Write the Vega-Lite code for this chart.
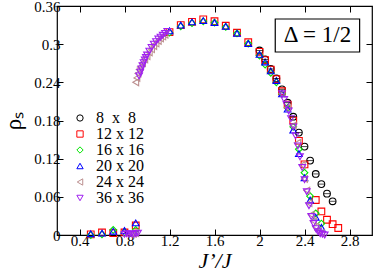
{
"$schema":"https://vega.github.io/schema/vega-lite/v6.json",
"width":315,"height":229,
"autosize":"none",
"padding":{"left":57,"top":6,"right":2,"bottom":36},
"config":{"view":{"stroke":"black","strokeWidth":1.2},"font":"Times New Roman, Liberation Serif, serif",
 "axis":{"labelFont":"Times New Roman, Liberation Serif, serif","labelFontSize":15,"labelColor":"black","tickColor":"black","tickSize":-6,"tickWidth":1,"domain":false,"grid":false,"titleFont":"Times New Roman, Liberation Serif, serif","titleColor":"black","titleFontWeight":"normal"}},
"data":{"values":[
{"L":"8  x  8","x":2.0,"y":0.290},{"L":"8  x  8","x":2.05,"y":0.276},{"L":"8  x  8","x":2.1,"y":0.261},{"L":"8  x  8","x":2.15,"y":0.246},{"L":"8  x  8","x":2.2,"y":0.229},{"L":"8  x  8","x":2.25,"y":0.208},{"L":"8  x  8","x":2.3,"y":0.186},{"L":"8  x  8","x":2.35,"y":0.161},{"L":"8  x  8","x":2.4,"y":0.139},{"L":"8  x  8","x":2.45,"y":0.117},{"L":"8  x  8","x":2.5,"y":0.096},{"L":"8  x  8","x":2.55,"y":0.080},{"L":"8  x  8","x":2.6,"y":0.065},{"L":"8  x  8","x":2.65,"y":0.053},
{"L":"12 x 12","x":0.5,"y":0.001},{"L":"12 x 12","x":0.6,"y":0.004},{"L":"12 x 12","x":0.7,"y":0.003},{"L":"12 x 12","x":0.8,"y":0.004},{"L":"12 x 12","x":0.9,"y":0.015},{"L":"12 x 12","x":1.2,"y":0.319},{"L":"12 x 12","x":1.3,"y":0.330},{"L":"12 x 12","x":1.4,"y":0.335},{"L":"12 x 12","x":1.5,"y":0.339},{"L":"12 x 12","x":1.6,"y":0.336},{"L":"12 x 12","x":1.7,"y":0.329},{"L":"12 x 12","x":1.8,"y":0.318},{"L":"12 x 12","x":1.9,"y":0.303},{"L":"12 x 12","x":2.0,"y":0.288},{"L":"12 x 12","x":2.05,"y":0.275},{"L":"12 x 12","x":2.1,"y":0.260},{"L":"12 x 12","x":2.15,"y":0.245},{"L":"12 x 12","x":2.2,"y":0.226},{"L":"12 x 12","x":2.25,"y":0.205},{"L":"12 x 12","x":2.3,"y":0.180},{"L":"12 x 12","x":2.35,"y":0.148},{"L":"12 x 12","x":2.4,"y":0.111},{"L":"12 x 12","x":2.5,"y":0.055},{"L":"12 x 12","x":2.55,"y":0.037},{"L":"12 x 12","x":2.6,"y":0.024},{"L":"12 x 12","x":2.65,"y":0.017},{"L":"12 x 12","x":2.7,"y":0.011},
{"L":"16 x 16","x":0.5,"y":0.0},{"L":"16 x 16","x":0.6,"y":0.001},{"L":"16 x 16","x":0.7,"y":0.008},{"L":"16 x 16","x":0.8,"y":0.004},{"L":"16 x 16","x":0.9,"y":0.008},{"L":"16 x 16","x":1.2,"y":0.318},{"L":"16 x 16","x":1.3,"y":0.328},{"L":"16 x 16","x":1.4,"y":0.333},{"L":"16 x 16","x":1.5,"y":0.336},{"L":"16 x 16","x":1.6,"y":0.334},{"L":"16 x 16","x":1.7,"y":0.327},{"L":"16 x 16","x":1.8,"y":0.317},{"L":"16 x 16","x":1.9,"y":0.301},{"L":"16 x 16","x":2.0,"y":0.282},{"L":"16 x 16","x":2.05,"y":0.268},{"L":"16 x 16","x":2.1,"y":0.255},{"L":"16 x 16","x":2.15,"y":0.240},{"L":"16 x 16","x":2.2,"y":0.222},{"L":"16 x 16","x":2.25,"y":0.200},{"L":"16 x 16","x":2.3,"y":0.170},{"L":"16 x 16","x":2.35,"y":0.135},{"L":"16 x 16","x":2.4,"y":0.098},{"L":"16 x 16","x":2.45,"y":0.061},{"L":"16 x 16","x":2.5,"y":0.034},{"L":"16 x 16","x":2.55,"y":0.018},
{"L":"20 x 20","x":0.5,"y":0.002},{"L":"20 x 20","x":0.6,"y":0.003},{"L":"20 x 20","x":0.7,"y":0.006},{"L":"20 x 20","x":0.8,"y":0.007},{"L":"20 x 20","x":0.9,"y":0.019},{"L":"20 x 20","x":1.2,"y":0.321},{"L":"20 x 20","x":1.3,"y":0.330},{"L":"20 x 20","x":1.4,"y":0.335},{"L":"20 x 20","x":1.5,"y":0.337},{"L":"20 x 20","x":1.6,"y":0.334},{"L":"20 x 20","x":1.7,"y":0.328},{"L":"20 x 20","x":1.8,"y":0.317},{"L":"20 x 20","x":1.9,"y":0.301},{"L":"20 x 20","x":2.0,"y":0.284},{"L":"20 x 20","x":2.05,"y":0.272},{"L":"20 x 20","x":2.1,"y":0.258},{"L":"20 x 20","x":2.15,"y":0.243},{"L":"20 x 20","x":2.2,"y":0.222},{"L":"20 x 20","x":2.25,"y":0.198},{"L":"20 x 20","x":2.3,"y":0.165},{"L":"20 x 20","x":2.35,"y":0.128},{"L":"20 x 20","x":2.4,"y":0.090},{"L":"20 x 20","x":2.45,"y":0.055},{"L":"20 x 20","x":2.5,"y":0.028},{"L":"20 x 20","x":2.55,"y":0.012},
{"L":"24 x 24","x":0.86,"y":0.001},{"L":"24 x 24","x":0.88,"y":0.002},{"L":"24 x 24","x":0.9,"y":0.003},{"L":"24 x 24","x":0.9,"y":0.240},{"L":"24 x 24","x":0.91,"y":0.247},{"L":"24 x 24","x":0.92,"y":0.254},{"L":"24 x 24","x":0.93,"y":0.260},{"L":"24 x 24","x":0.94,"y":0.264},{"L":"24 x 24","x":0.96,"y":0.270},{"L":"24 x 24","x":0.98,"y":0.276},{"L":"24 x 24","x":1.0,"y":0.281},{"L":"24 x 24","x":1.02,"y":0.287},{"L":"24 x 24","x":1.04,"y":0.292},{"L":"24 x 24","x":1.06,"y":0.297},{"L":"24 x 24","x":1.08,"y":0.301},{"L":"24 x 24","x":1.1,"y":0.305},{"L":"24 x 24","x":1.12,"y":0.309},{"L":"24 x 24","x":1.14,"y":0.312},{"L":"24 x 24","x":1.16,"y":0.315},{"L":"24 x 24","x":2.2,"y":0.222},{"L":"24 x 24","x":2.25,"y":0.200},{"L":"24 x 24","x":2.3,"y":0.172},{"L":"24 x 24","x":2.34,"y":0.145},{"L":"24 x 24","x":2.38,"y":0.110},{"L":"24 x 24","x":2.4,"y":0.088},{"L":"24 x 24","x":2.42,"y":0.070},{"L":"24 x 24","x":2.44,"y":0.050},{"L":"24 x 24","x":2.46,"y":0.032},{"L":"24 x 24","x":2.48,"y":0.022},{"L":"24 x 24","x":2.5,"y":0.013},{"L":"24 x 24","x":2.52,"y":0.007},{"L":"24 x 24","x":2.55,"y":0.003},
{"L":"36 x 36","x":0.8,"y":0.001},{"L":"36 x 36","x":0.82,"y":0.002},{"L":"36 x 36","x":0.84,"y":0.001},{"L":"36 x 36","x":0.86,"y":0.002},{"L":"36 x 36","x":0.88,"y":0.001},{"L":"36 x 36","x":0.9,"y":0.002},{"L":"36 x 36","x":0.92,"y":0.003},
{"L":"36 x 36","x":0.93,"y":0.250},{"L":"36 x 36","x":0.94,"y":0.256},{"L":"36 x 36","x":0.95,"y":0.261},{"L":"36 x 36","x":0.96,"y":0.266},{"L":"36 x 36","x":0.97,"y":0.271},{"L":"36 x 36","x":0.98,"y":0.275},{"L":"36 x 36","x":0.99,"y":0.279},{"L":"36 x 36","x":1.0,"y":0.283},{"L":"36 x 36","x":1.02,"y":0.289},{"L":"36 x 36","x":1.04,"y":0.295},{"L":"36 x 36","x":1.06,"y":0.300},{"L":"36 x 36","x":1.08,"y":0.304},{"L":"36 x 36","x":1.1,"y":0.308},{"L":"36 x 36","x":1.12,"y":0.311},{"L":"36 x 36","x":1.14,"y":0.314},{"L":"36 x 36","x":1.16,"y":0.317},{"L":"36 x 36","x":1.18,"y":0.320},
{"L":"36 x 36","x":2.2,"y":0.222},{"L":"36 x 36","x":2.22,"y":0.213},{"L":"36 x 36","x":2.24,"y":0.205},{"L":"36 x 36","x":2.26,"y":0.195},{"L":"36 x 36","x":2.28,"y":0.183},{"L":"36 x 36","x":2.3,"y":0.170},{"L":"36 x 36","x":2.32,"y":0.156},{"L":"36 x 36","x":2.34,"y":0.140},{"L":"36 x 36","x":2.36,"y":0.123},{"L":"36 x 36","x":2.38,"y":0.106},{"L":"36 x 36","x":2.4,"y":0.087},{"L":"36 x 36","x":2.42,"y":0.068},{"L":"36 x 36","x":2.44,"y":0.046},{"L":"36 x 36","x":2.46,"y":0.029},{"L":"36 x 36","x":2.48,"y":0.018},{"L":"36 x 36","x":2.5,"y":0.010},{"L":"36 x 36","x":2.52,"y":0.005},{"L":"36 x 36","x":2.54,"y":0.002},{"L":"36 x 36","x":2.56,"y":0.001},{"L":"36 x 36","x":2.58,"y":0.0}
]},
"layer":[
 {"data":{"values":[{}]},"mark":{"type":"rect","fill":"white","stroke":"black","strokeWidth":1.2},
  "encoding":{"x":{"datum":2.14,"type":"quantitative","axis":null},"x2":{"datum":2.89},"y":{"datum":0.2877,"type":"quantitative","axis":null},"y2":{"datum":0.3396}}},
 {"data":{"values":[{}]},"mark":{"type":"text","text":"Δ = 1/2","font":"Times New Roman, Liberation Serif, serif","fontSize":23,"color":"black","align":"center","baseline":"middle"},
  "encoding":{"x":{"datum":2.515,"type":"quantitative","axis":null},"y":{"datum":0.3137,"type":"quantitative","axis":null}}},
 {"mark":{"type":"point","filled":false,"size":45,"strokeWidth":1.1,"opacity":1},
  "encoding":{
   "x":{"field":"x","type":"quantitative","scale":{"domain":[0.2,3.0],"nice":false,"zero":false},
     "axis":{"orient":"bottom","values":[0.4,0.8,1.2,1.6,2.0,2.4,2.8],"format":".1~f","labelPadding":4,"title":"J’/J","titleFontSize":22,"titleFontStyle":"italic","titlePadding":2}},
   "y":{"field":"y","type":"quantitative","scale":{"domain":[0,0.36],"nice":false,"zero":false},
     "axis":{"orient":"left","values":[0,0.06,0.12,0.18,0.24,0.3,0.36],"format":".2~f","labelPadding":3,"title":"ρₛ","titleFontSize":23,"titlePadding":8}},
   "color":{"field":"L","type":"nominal","scale":{"domain":["8  x  8","12 x 12","16 x 16","20 x 20","24 x 24","36 x 36"],"range":["black","#ff0000","#00e600","#0000ff","#bc8f8f","#a020f0"]},
     "legend":{"orient":"none","legendX":15,"legendY":104,"title":null,"padding":0,"rowPadding":0,"labelFont":"Times New Roman, Liberation Serif, serif","labelFontSize":16,"labelColor":"black","labelOffset":8,"symbolSize":40,"symbolStrokeWidth":1,"symbolFillColor":"transparent",
       "labelExpr":"datum.label == '8  x  8' ? '8\u00a0\u00a0x\u00a0\u00a08' : datum.label"}},
   "shape":{"field":"L","type":"nominal","scale":{"domain":["8  x  8","12 x 12","16 x 16","20 x 20","24 x 24","36 x 36"],"range":["circle","square","diamond","triangle-up","triangle-left","triangle-down"]},"legend":null}
  }},
 {"transform":[{"filter":{"field":"L","equal":"8  x  8"}}],"mark":{"type":"point","shape":"stroke","size":40,"strokeWidth":1,"color":"black"},
  "encoding":{"x":{"field":"x","type":"quantitative","axis":null},"y":{"field":"y","type":"quantitative","axis":null}}},
 {"data":{"values":[{}]},"mark":{"type":"point","opacity":0},
  "encoding":{"x":{"datum":1.0,"type":"quantitative","axis":{"orient":"top","values":[0.4,0.8,1.2,1.6,2.0,2.4,2.8],"labels":false,"title":null}},
   "y":{"datum":0.1,"type":"quantitative","axis":{"orient":"right","values":[0,0.06,0.12,0.18,0.24,0.3,0.36],"labels":false,"title":null}}}}
],
"resolve":{"axis":{"x":"independent","y":"independent"}}
}
